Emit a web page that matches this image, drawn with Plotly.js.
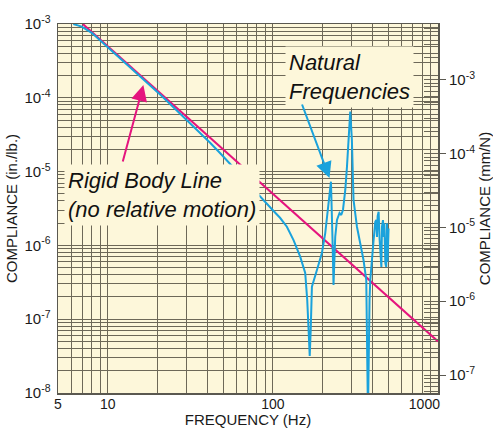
<!DOCTYPE html>
<html>
<head>
<meta charset="utf-8">
<script src="https://cdn.plot.ly/plotly-3.0.1.min.js"></script>
<style>html,body{margin:0;padding:0;background:#fff;}#chart{width:493px;height:428px;}</style>
</head>
<body>
<div id="chart"></div>
<script>
// ---- data ----
const freqMeasured = [6.19, 6.96, 8.0, 9.0, 10, 11.5, 13, 15, 18.05, 21, 23.86, 27, 31.55, 35, 38, 41.7, 48, 55.1, 63, 72.9, 80, 89.9, 100, 110.8, 121.6, 133.4, 146.4, 157, 161.5, 164.6, 167.2, 169.5, 172.4, 184.9, 198.2, 207.6, 217.6, 224.8, 229.8, 233, 238.6, 244.5, 253.4, 259.5, 265.8, 274.5, 281, 287.3, 294.2, 301, 308, 323, 338.4, 354, 367.8, 376.6, 385, 389, 407.4, 417, 423, 427, 431, 437, 443, 447, 454, 458, 464.5, 469, 473, 480, 486, 491, 495, 502];
const complianceMeasured = [1.0e-3, 9.2e-4, 7.6e-4, 6.0e-4, 4.85e-4, 3.68e-4, 2.87e-4, 2.15e-4, 1.48e-4, 1.08e-4, 8.25e-5, 6.35e-5, 4.57e-5, 3.66e-5, 3.0e-5, 2.46e-5, 1.77e-5, 1.285e-5, 9.2e-6, 6.47e-6, 5.12e-6, 3.88e-6, 2.99e-6, 2.35e-6, 1.79e-6, 1.18e-6, 7.03e-7, 4.23e-7, 1.82e-7, 7.1e-8, 3.17e-8, 7.1e-8, 2.75e-7, 4.65e-7, 7.89e-7, 1.47e-6, 4.12e-6, 7.3e-6, 1.18e-6, 2.9e-7, 1.31e-6, 2.21e-6, 2.75e-6, 2.58e-6, 3.02e-6, 5.64e-6, 1.16e-5, 2.68e-5, 6.49e-5, 2.68e-5, 4.12e-6, 1.79e-6, 1.08e-6, 6.34e-7, 3.4e-7, 5e-9, 1.82e-7, 3.4e-7, 1.18e-6, 2.09e-6, 2.21e-6, 1.3e-6, 2.5e-6, 2.86e-6, 1.2e-6, 9.6e-7, 5.1e-7, 1.8e-6, 2.2e-6, 1.3e-6, 2.0e-6, 5.7e-7, 5.1e-7, 1.99e-6, 6.0e-7, 1.7e-6];
const freqRigid = [7.07, 1000];
const complianceRigid = [1.0e-3, 5.0e-8];

// unit conversion in./lb. -> mm/N
const inPerLbToMmPerN = 25.4 / 4.44822;

// ---- tick labels ----
const xTickVals = [5, 10, 100, 1000];
const xTickText = ['5', '10', '100', '1000\u00a0\u00a0\u00a0\u00a0\u00a0\u00a0\u00a0'];
const minorMult = [2, 3, 4, 5, 6, 7, 8, 9];
const xDecades = [1, 10, 100];
const yTickVals = [1e-8, 1e-7, 1e-6, 1e-5, 1e-4, 1e-3];
const yTickText = ['10<sup>-8</sup>', '10<sup>-7</sup>', '10<sup>-6</sup>', '10<sup>-5</sup>', '10<sup>-4</sup>', '10<sup>-3</sup>'];
const y2TickVals = [1e-7, 1e-6, 1e-5, 1e-4, 1e-3];
const y2TickText = ['10<sup>-7</sup>', '10<sup>-6</sup>', '10<sup>-5</sup>', '10<sup>-4</sup>', '10<sup>-3</sup>'];
const yDecades = [1e-8, 1e-7, 1e-6, 1e-5, 1e-4];
const y2Decades = [1e-8, 1e-7, 1e-6, 1e-5, 1e-4, 1e-3];

const xMinorVals = [];
xDecades.forEach(d => minorMult.forEach(m => { const v = d * m; if (v > 5 && v < 1000 && v !== 10 && v !== 100) xMinorVals.push(v); }));
const yMinorVals = [];
yDecades.forEach(d => minorMult.forEach(m => yMinorVals.push(d * m)));
const y2MinorVals = [];
y2Decades.forEach(d => [1].concat(minorMult).forEach(m => y2MinorVals.push(d * m)));

const cream = '#fdf7da';
const gridCol = '#6d6858';
const frameCol = '#5a5850';
const pink = '#e5147e';
const blue = '#1aa2dc';
const fontFam = 'Liberation Sans, Arial, Helvetica, sans-serif';

const traces = [
  { x: freqRigid, y: complianceRigid, mode: 'lines', line: { color: pink, width: 2 }, hoverinfo: 'skip' },
  { x: freqMeasured, y: complianceMeasured, mode: 'lines', line: { color: blue, width: 2 }, hoverinfo: 'skip' },
  { x: freqRigid, y: complianceRigid.map(v => v * inPerLbToMmPerN), yaxis: 'y2', mode: 'lines', opacity: 0, line: { width: 1, color: pink }, hoverinfo: 'skip' }
];

const layout = {
  width: 493, height: 428,
  margin: { l: 58, r: 55, t: 24, b: 35, pad: 0 },
  paper_bgcolor: '#ffffff',
  plot_bgcolor: cream,
  showlegend: false,
  font: { family: fontFam, size: 15, color: '#1a1a1a' },
  xaxis: {
    type: 'log', range: [Math.log10(5), 3],
    tickmode: 'array', tickvals: xTickVals, ticktext: xTickText,
    ticks: '', showgrid: true, gridcolor: gridCol, gridwidth: 1,
    showline: true, linecolor: frameCol, linewidth: 1.5, mirror: true, zeroline: false,
    tickfont: { size: 14 }, ticklabelstandoff: -2,
    minor: { tickmode: 'array', tickvals: xMinorVals, showgrid: true, gridcolor: gridCol, gridwidth: 1, ticks: '' },
    title: { text: 'FREQUENCY (Hz)', font: { size: 15 }, standoff: 4 }
  },
  yaxis: {
    type: 'log', range: [-8, -3],
    tickmode: 'array', tickvals: yTickVals, ticktext: yTickText,
    ticks: '', showgrid: true, gridcolor: gridCol, gridwidth: 1,
    showline: true, linecolor: frameCol, linewidth: 1.5, mirror: true, zeroline: false,
    tickfont: { size: 15 }, ticklabelstandoff: 3,
    minor: { tickmode: 'array', tickvals: yMinorVals, showgrid: true, gridcolor: gridCol, gridwidth: 1, ticks: '' },
    title: { text: 'COMPLIANCE (in./lb.)', font: { size: 15 }, standoff: 3 }
  },
  yaxis2: {
    type: 'log', overlaying: 'y', side: 'right',
    range: [-8 + Math.log10(inPerLbToMmPerN), -3 + Math.log10(inPerLbToMmPerN)],
    tickmode: 'array', tickvals: y2TickVals, ticktext: y2TickText,
    ticks: 'outside', ticklen: 7, tickwidth: 1, tickcolor: frameCol,
    showgrid: false, showline: false, zeroline: false,
    tickfont: { size: 15 },
    minor: { tickmode: 'array', tickvals: y2MinorVals, ticks: 'inside', ticklen: 14, tickwidth: 1, tickcolor: gridCol, showgrid: false },
    title: { text: 'COMPLIANCE (mm/N)', font: { size: 15 }, standoff: 6 }
  },
  annotations: [
    { xref: 'paper', yref: 'paper', x: 0.597, y: 0.94, xanchor: 'left', yanchor: 'top',
      text: '<i>Natural<br>Frequencies</i>', align: 'left', showarrow: false,
      font: { size: 22, color: '#111', family: fontFam }, bgcolor: cream, borderpad: 3 },
    { xref: 'paper', yref: 'paper', x: 0.015, y: 0.62, xanchor: 'left', yanchor: 'top',
      text: '<i>Rigid Body Line<br>(no relative motion)</i>', align: 'left', showarrow: false,
      font: { size: 22, color: '#111', family: fontFam }, bgcolor: cream, borderpad: 3 },
    { xref: 'x', yref: 'y', x: 1.216, y: -3.827, ax: -21, ay: 78, text: '', showarrow: true,
      arrowcolor: pink, arrowwidth: 2, arrowhead: 2, arrowsize: 1.6, standoff: 0 },
    { xref: 'x', yref: 'y', x: 2.343, y: -5.087, ax: -28, ay: -75, text: '', showarrow: true,
      arrowcolor: blue, arrowwidth: 2, arrowhead: 2, arrowsize: 1.6, standoff: 0 }
  ]
};

Plotly.newPlot('chart', traces, layout, { displayModeBar: false, staticPlot: true });
</script>
</body>
</html>
